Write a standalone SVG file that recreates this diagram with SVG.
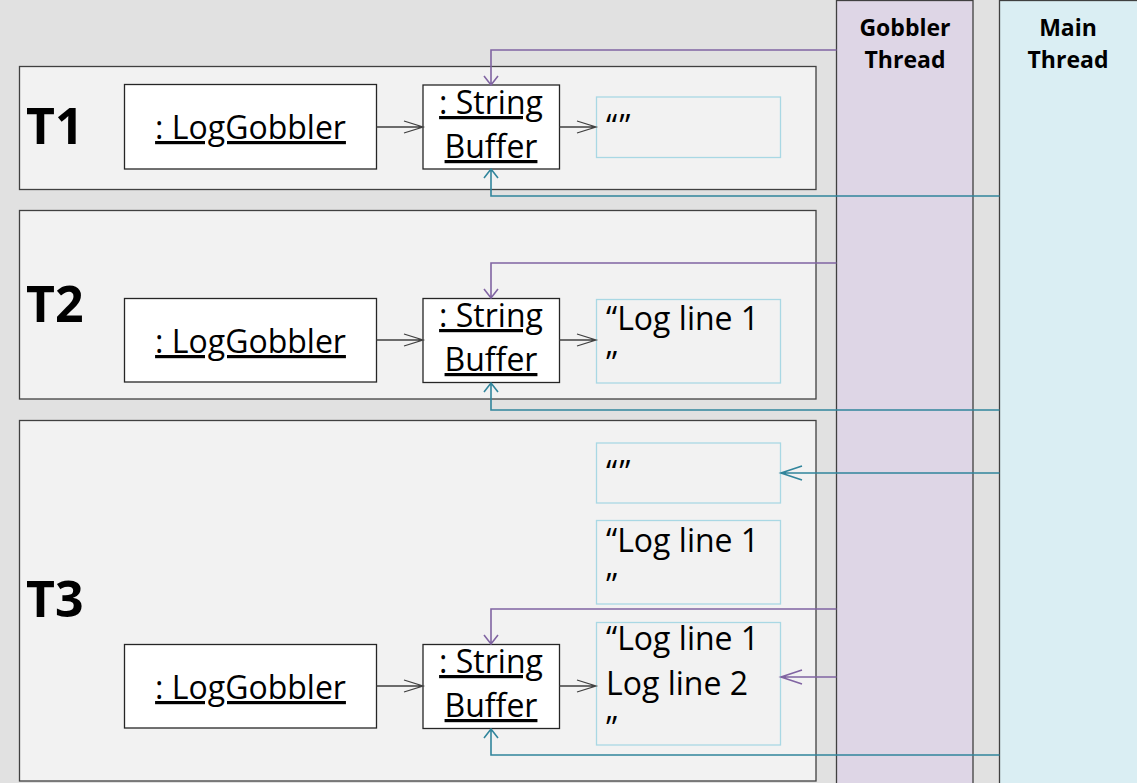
<svg xmlns="http://www.w3.org/2000/svg" width="1137" height="783" viewBox="0 0 1137 783">
<style>
.frame{fill:#f2f2f2;stroke:#404040;stroke-width:1.3}
.obj{fill:#ffffff;stroke:#262626;stroke-width:1.3}
.val{fill:#f2f2f2;stroke:#a9d8e4;stroke-width:1.3}
.t{font-family:"Open Sans","Liberation Sans",sans-serif;font-size:32px;fill:#000}
.u{text-decoration:underline}
.q{letter-spacing:2px}
.big{font-family:"Open Sans","Liberation Sans",sans-serif;font-size:50px;font-weight:bold;fill:#000}
.hd{font-family:"Open Sans","Liberation Sans",sans-serif;font-size:23px;font-weight:bold;fill:#000;text-anchor:middle}
.k{fill:none;stroke:#404040;stroke-width:1.3}
.p{fill:none;stroke:#8064a2;stroke-width:1.6}
.b{fill:none;stroke:#31859c;stroke-width:1.6}
</style>
<rect x="0" y="0" width="1137" height="783" fill="#e1e1e1"/>
<g id="gobbler-thread">
<rect x="836.5" y="0.5" width="136.5" height="790" fill="#ded6e6" stroke="#404040" stroke-width="1.3"/>
<text class="hd" x="905" y="36">Gobbler</text>
<text class="hd" x="905" y="68">Thread</text>
</g>
<g id="main-thread">
<rect x="999.5" y="0.5" width="140" height="790" fill="#daeef3" stroke="#404040" stroke-width="1.3"/>
<text class="hd" x="1068" y="36">Main</text>
<text class="hd" x="1068" y="68">Thread</text>
</g>
<g id="T1">
<rect class="frame" x="19.5" y="66.5" width="796.5" height="123"/>
<text class="big" x="26" y="144">T1</text>
</g>
<g id="T2">
<rect class="frame" x="19.5" y="210.5" width="796.5" height="188.5"/>
<text class="big" x="26" y="322">T2</text>
</g>
<g id="T3">
<rect class="frame" x="19.5" y="420.5" width="796.5" height="360.5"/>
<text class="big" x="26" y="617">T3</text>
</g>
<g id="t1-loggobbler">
<rect class="obj" x="124.5" y="84.5" width="252" height="84.5"/>
<text class="t u" x="250.5" y="139" text-anchor="middle">: LogGobbler</text>
</g>
<g id="t1-stringbuffer">
<rect class="obj" x="423" y="85" width="136.5" height="84"/>
<text class="t u" x="491" y="114" text-anchor="middle">: String</text>
<text class="t u" x="491" y="158" text-anchor="middle">Buffer</text>
</g>
<g id="t1-value">
<rect class="val" x="596.5" y="97" width="184" height="60.5"/>
<text class="t q" x="606" y="138">“”</text>
</g>
<g id="t2-loggobbler">
<rect class="obj" x="124.5" y="298.5" width="252" height="83.5"/>
<text class="t u" x="250.5" y="353" text-anchor="middle">: LogGobbler</text>
</g>
<g id="t2-stringbuffer">
<rect class="obj" x="423" y="298.5" width="136.5" height="84"/>
<text class="t u" x="491" y="327" text-anchor="middle">: String</text>
<text class="t u" x="491" y="371" text-anchor="middle">Buffer</text>
</g>
<g id="t2-value">
<rect class="val" x="596.5" y="299.5" width="184" height="83.5"/>
<text class="t" x="606" y="330">“Log line 1</text>
<text class="t" x="606" y="375">”</text>
</g>
<g id="t3-value-empty">
<rect class="val" x="596.5" y="443" width="184" height="60"/>
<text class="t q" x="606" y="484">“”</text>
</g>
<g id="t3-value-line1">
<rect class="val" x="596.5" y="520.5" width="184" height="83.5"/>
<text class="t" x="606" y="552">“Log line 1</text>
<text class="t" x="606" y="597">”</text>
</g>
<g id="t3-loggobbler">
<rect class="obj" x="124.5" y="644.5" width="252" height="83.5"/>
<text class="t u" x="250.5" y="699" text-anchor="middle">: LogGobbler</text>
</g>
<g id="t3-stringbuffer">
<rect class="obj" x="423" y="644.5" width="136.5" height="84"/>
<text class="t u" x="491" y="673" text-anchor="middle">: String</text>
<text class="t u" x="491" y="717" text-anchor="middle">Buffer</text>
</g>
<g id="t3-value-line2">
<rect class="val" x="596.5" y="622.5" width="184" height="122.5"/>
<text class="t" x="606" y="650">“Log line 1</text>
<text class="t" x="606" y="695">Log line 2</text>
<text class="t" x="606" y="740">”</text>
</g>
<g id="connectors">
<path class="k" d="M376.5 127H423M404 121L423 127L404 133"/>
<path class="k" d="M559.5 127H596M577 121L596 127L577 133"/>
<path class="k" d="M376.5 340H423M404 334L423 340L404 346"/>
<path class="k" d="M559.5 340H596M577 334L596 340L577 346"/>
<path class="k" d="M376.5 686H423M404 680L423 686L404 692"/>
<path class="k" d="M559.5 686H596M577 680L596 686L577 692"/>
<path class="p" d="M836.5 50H491V85M484 76L491 85L498 76"/>
<path class="p" d="M836.5 263H491V298M484 289L491 298L498 289"/>
<path class="p" d="M836.5 609H491V644M484 635L491 644L498 635"/>
<path class="p" d="M836.5 677H781M802 670L781 677L802 684"/>
<path class="b" d="M999.5 196H491V169M484 178L491 169L498 178"/>
<path class="b" d="M999.5 410H491V383M484 392L491 383L498 392"/>
<path class="b" d="M999.5 755H491V729M484 738L491 729L498 738"/>
<path class="b" d="M999.5 473H781M802 466L781 473L802 480"/>
</g>
</svg>
